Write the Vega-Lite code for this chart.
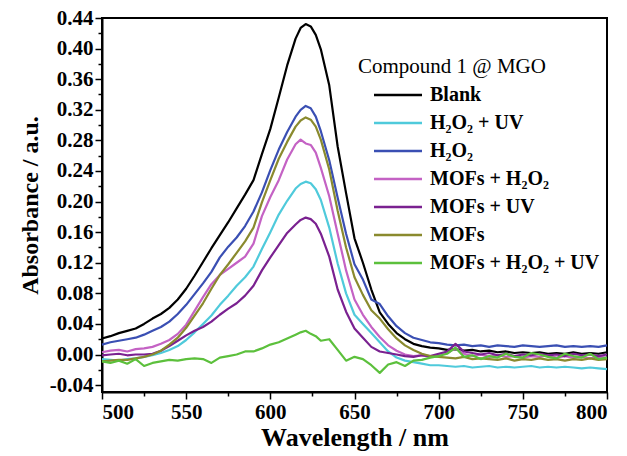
{
  "$schema": "https://vega.github.io/schema/vega-lite/v6.json",
  "width": 505,
  "height": 374,
  "autosize": {"type": "none"},
  "padding": {"left": 102, "top": 18, "right": 20, "bottom": 64},
  "background": "white",
  "data": {"values": [
    {"w":500,"Blank":0.021,"H₂O₂ + UV":-0.006,"H₂O₂":0.013,"MOFs + H₂O₂":0.003,"MOFs + UV":-0.001,"MOFs":-0.009,"MOFs + H₂O₂ + UV":-0.009},
    {"w":505,"Blank":0.024,"H₂O₂ + UV":-0.007,"H₂O₂":0.016,"MOFs + H₂O₂":0.005,"MOFs + UV":0.000,"MOFs":-0.008,"MOFs + H₂O₂ + UV":-0.011},
    {"w":510,"Blank":0.028,"H₂O₂ + UV":-0.008,"H₂O₂":0.018,"MOFs + H₂O₂":0.006,"MOFs + UV":0.001,"MOFs":-0.007,"MOFs + H₂O₂ + UV":-0.008},
    {"w":515,"Blank":0.031,"H₂O₂ + UV":-0.006,"H₂O₂":0.020,"MOFs + H₂O₂":0.004,"MOFs + UV":-0.001,"MOFs":-0.007,"MOFs + H₂O₂ + UV":-0.012},
    {"w":520,"Blank":0.034,"H₂O₂ + UV":-0.005,"H₂O₂":0.022,"MOFs + H₂O₂":0.007,"MOFs + UV":0.000,"MOFs":-0.005,"MOFs + H₂O₂ + UV":-0.006},
    {"w":525,"Blank":0.040,"H₂O₂ + UV":-0.003,"H₂O₂":0.026,"MOFs + H₂O₂":0.008,"MOFs + UV":0.000,"MOFs":-0.003,"MOFs + H₂O₂ + UV":-0.015},
    {"w":530,"Blank":0.047,"H₂O₂ + UV":-0.001,"H₂O₂":0.031,"MOFs + H₂O₂":0.010,"MOFs + UV":0.001,"MOFs":0.000,"MOFs + H₂O₂ + UV":-0.011},
    {"w":535,"Blank":0.053,"H₂O₂ + UV":0.002,"H₂O₂":0.036,"MOFs + H₂O₂":0.014,"MOFs + UV":0.005,"MOFs":0.005,"MOFs + H₂O₂ + UV":-0.009},
    {"w":540,"Blank":0.061,"H₂O₂ + UV":0.006,"H₂O₂":0.043,"MOFs + H₂O₂":0.019,"MOFs + UV":0.011,"MOFs":0.013,"MOFs + H₂O₂ + UV":-0.007},
    {"w":545,"Blank":0.072,"H₂O₂ + UV":0.011,"H₂O₂":0.053,"MOFs + H₂O₂":0.027,"MOFs + UV":0.018,"MOFs":0.022,"MOFs + H₂O₂ + UV":-0.008},
    {"w":550,"Blank":0.086,"H₂O₂ + UV":0.019,"H₂O₂":0.065,"MOFs + H₂O₂":0.039,"MOFs + UV":0.025,"MOFs":0.035,"MOFs + H₂O₂ + UV":-0.006},
    {"w":555,"Blank":0.103,"H₂O₂ + UV":0.029,"H₂O₂":0.079,"MOFs + H₂O₂":0.057,"MOFs + UV":0.031,"MOFs":0.051,"MOFs + H₂O₂ + UV":-0.005},
    {"w":560,"Blank":0.121,"H₂O₂ + UV":0.040,"H₂O₂":0.093,"MOFs + H₂O₂":0.075,"MOFs + UV":0.036,"MOFs":0.067,"MOFs + H₂O₂ + UV":-0.006},
    {"w":565,"Blank":0.139,"H₂O₂ + UV":0.051,"H₂O₂":0.108,"MOFs + H₂O₂":0.092,"MOFs + UV":0.043,"MOFs":0.086,"MOFs + H₂O₂ + UV":-0.011},
    {"w":570,"Blank":0.156,"H₂O₂ + UV":0.065,"H₂O₂":0.127,"MOFs + H₂O₂":0.104,"MOFs + UV":0.052,"MOFs":0.104,"MOFs + H₂O₂ + UV":-0.004},
    {"w":575,"Blank":0.173,"H₂O₂ + UV":0.077,"H₂O₂":0.141,"MOFs + H₂O₂":0.112,"MOFs + UV":0.060,"MOFs":0.118,"MOFs + H₂O₂ + UV":-0.002},
    {"w":580,"Blank":0.191,"H₂O₂ + UV":0.090,"H₂O₂":0.153,"MOFs + H₂O₂":0.120,"MOFs + UV":0.067,"MOFs":0.133,"MOFs + H₂O₂ + UV":0.000},
    {"w":585,"Blank":0.209,"H₂O₂ + UV":0.101,"H₂O₂":0.168,"MOFs + H₂O₂":0.128,"MOFs + UV":0.077,"MOFs":0.148,"MOFs + H₂O₂ + UV":0.004},
    {"w":590,"Blank":0.228,"H₂O₂ + UV":0.115,"H₂O₂":0.187,"MOFs + H₂O₂":0.145,"MOFs + UV":0.090,"MOFs":0.166,"MOFs + H₂O₂ + UV":0.004},
    {"w":595,"Blank":0.262,"H₂O₂ + UV":0.138,"H₂O₂":0.212,"MOFs + H₂O₂":0.181,"MOFs + UV":0.110,"MOFs":0.199,"MOFs + H₂O₂ + UV":0.008},
    {"w":600,"Blank":0.295,"H₂O₂ + UV":0.160,"H₂O₂":0.241,"MOFs + H₂O₂":0.206,"MOFs + UV":0.127,"MOFs":0.228,"MOFs + H₂O₂ + UV":0.013},
    {"w":605,"Blank":0.336,"H₂O₂ + UV":0.183,"H₂O₂":0.268,"MOFs + H₂O₂":0.228,"MOFs + UV":0.143,"MOFs":0.256,"MOFs + H₂O₂ + UV":0.016},
    {"w":610,"Blank":0.378,"H₂O₂ + UV":0.201,"H₂O₂":0.291,"MOFs + H₂O₂":0.255,"MOFs + UV":0.159,"MOFs":0.278,"MOFs + H₂O₂ + UV":0.021},
    {"w":615,"Blank":0.413,"H₂O₂ + UV":0.217,"H₂O₂":0.311,"MOFs + H₂O₂":0.275,"MOFs + UV":0.170,"MOFs":0.298,"MOFs + H₂O₂ + UV":0.026},
    {"w":618,"Blank":0.427,"H₂O₂ + UV":0.223,"H₂O₂":0.320,"MOFs + H₂O₂":0.281,"MOFs + UV":0.176,"MOFs":0.306,"MOFs + H₂O₂ + UV":0.029},
    {"w":621,"Blank":0.432,"H₂O₂ + UV":0.226,"H₂O₂":0.325,"MOFs + H₂O₂":0.276,"MOFs + UV":0.179,"MOFs":0.310,"MOFs + H₂O₂ + UV":0.031},
    {"w":624,"Blank":0.429,"H₂O₂ + UV":0.224,"H₂O₂":0.322,"MOFs + H₂O₂":0.274,"MOFs + UV":0.177,"MOFs":0.307,"MOFs + H₂O₂ + UV":0.027},
    {"w":627,"Blank":0.418,"H₂O₂ + UV":0.216,"H₂O₂":0.311,"MOFs + H₂O₂":0.264,"MOFs + UV":0.171,"MOFs":0.298,"MOFs + H₂O₂ + UV":0.024},
    {"w":630,"Blank":0.399,"H₂O₂ + UV":0.202,"H₂O₂":0.292,"MOFs + H₂O₂":0.244,"MOFs + UV":0.158,"MOFs":0.281,"MOFs + H₂O₂ + UV":0.018},
    {"w":635,"Blank":0.352,"H₂O₂ + UV":0.166,"H₂O₂":0.254,"MOFs + H₂O₂":0.207,"MOFs + UV":0.128,"MOFs":0.242,"MOFs + H₂O₂ + UV":0.020},
    {"w":640,"Blank":0.272,"H₂O₂ + UV":0.119,"H₂O₂":0.205,"MOFs + H₂O₂":0.158,"MOFs + UV":0.085,"MOFs":0.188,"MOFs + H₂O₂ + UV":0.006},
    {"w":645,"Blank":0.211,"H₂O₂ + UV":0.080,"H₂O₂":0.158,"MOFs + H₂O₂":0.110,"MOFs + UV":0.056,"MOFs":0.140,"MOFs + H₂O₂ + UV":-0.008},
    {"w":650,"Blank":0.152,"H₂O₂ + UV":0.052,"H₂O₂":0.118,"MOFs + H₂O₂":0.072,"MOFs + UV":0.034,"MOFs":0.101,"MOFs + H₂O₂ + UV":-0.003},
    {"w":655,"Blank":0.120,"H₂O₂ + UV":0.040,"H₂O₂":0.098,"MOFs + H₂O₂":0.052,"MOFs + UV":0.022,"MOFs":0.078,"MOFs + H₂O₂ + UV":-0.006},
    {"w":660,"Blank":0.085,"H₂O₂ + UV":0.028,"H₂O₂":0.072,"MOFs + H₂O₂":0.036,"MOFs + UV":0.010,"MOFs":0.058,"MOFs + H₂O₂ + UV":-0.014},
    {"w":665,"Blank":0.055,"H₂O₂ + UV":0.016,"H₂O₂":0.066,"MOFs + H₂O₂":0.023,"MOFs + UV":0.004,"MOFs":0.047,"MOFs + H₂O₂ + UV":-0.024},
    {"w":670,"Blank":0.040,"H₂O₂ + UV":0.004,"H₂O₂":0.050,"MOFs + H₂O₂":0.012,"MOFs + UV":0.002,"MOFs":0.033,"MOFs + H₂O₂ + UV":-0.013},
    {"w":675,"Blank":0.028,"H₂O₂ + UV":-0.004,"H₂O₂":0.037,"MOFs + H₂O₂":0.005,"MOFs + UV":0.000,"MOFs":0.021,"MOFs + H₂O₂ + UV":-0.010},
    {"w":680,"Blank":0.020,"H₂O₂ + UV":-0.008,"H₂O₂":0.028,"MOFs + H₂O₂":0.000,"MOFs + UV":-0.002,"MOFs":0.012,"MOFs + H₂O₂ + UV":-0.015},
    {"w":685,"Blank":0.014,"H₂O₂ + UV":-0.010,"H₂O₂":0.022,"MOFs + H₂O₂":-0.002,"MOFs + UV":-0.003,"MOFs":0.006,"MOFs + H₂O₂ + UV":-0.008},
    {"w":690,"Blank":0.011,"H₂O₂ + UV":-0.012,"H₂O₂":0.019,"MOFs + H₂O₂":-0.001,"MOFs + UV":-0.001,"MOFs":0.001,"MOFs + H₂O₂ + UV":-0.007},
    {"w":695,"Blank":0.009,"H₂O₂ + UV":-0.014,"H₂O₂":0.016,"MOFs + H₂O₂":-0.003,"MOFs + UV":-0.002,"MOFs":-0.002,"MOFs + H₂O₂ + UV":-0.004},
    {"w":700,"Blank":0.008,"H₂O₂ + UV":-0.014,"H₂O₂":0.015,"MOFs + H₂O₂":-0.001,"MOFs + UV":0.001,"MOFs":-0.003,"MOFs + H₂O₂ + UV":-0.002},
    {"w":705,"Blank":0.006,"H₂O₂ + UV":-0.015,"H₂O₂":0.013,"MOFs + H₂O₂":0.002,"MOFs + UV":0.004,"MOFs":-0.004,"MOFs + H₂O₂ + UV":0.001},
    {"w":710,"Blank":0.007,"H₂O₂ + UV":-0.016,"H₂O₂":0.012,"MOFs + H₂O₂":0.008,"MOFs + UV":0.014,"MOFs":-0.005,"MOFs + H₂O₂ + UV":0.009},
    {"w":715,"Blank":0.005,"H₂O₂ + UV":-0.015,"H₂O₂":0.013,"MOFs + H₂O₂":0.001,"MOFs + UV":0.004,"MOFs":-0.003,"MOFs + H₂O₂ + UV":-0.003},
    {"w":720,"Blank":0.006,"H₂O₂ + UV":-0.017,"H₂O₂":0.011,"MOFs + H₂O₂":-0.002,"MOFs + UV":0.002,"MOFs":-0.006,"MOFs + H₂O₂ + UV":-0.001},
    {"w":725,"Blank":0.004,"H₂O₂ + UV":-0.016,"H₂O₂":0.012,"MOFs + H₂O₂":0.000,"MOFs + UV":0.000,"MOFs":-0.005,"MOFs + H₂O₂ + UV":-0.006},
    {"w":730,"Blank":0.005,"H₂O₂ + UV":-0.015,"H₂O₂":0.010,"MOFs + H₂O₂":-0.003,"MOFs + UV":0.002,"MOFs":-0.006,"MOFs + H₂O₂ + UV":-0.002},
    {"w":735,"Blank":0.003,"H₂O₂ + UV":-0.017,"H₂O₂":0.012,"MOFs + H₂O₂":-0.001,"MOFs + UV":-0.001,"MOFs":-0.007,"MOFs + H₂O₂ + UV":-0.004},
    {"w":740,"Blank":0.004,"H₂O₂ + UV":-0.016,"H₂O₂":0.011,"MOFs + H₂O₂":-0.003,"MOFs + UV":0.001,"MOFs":-0.005,"MOFs + H₂O₂ + UV":0.001},
    {"w":745,"Blank":0.002,"H₂O₂ + UV":-0.017,"H₂O₂":0.010,"MOFs + H₂O₂":-0.002,"MOFs + UV":-0.002,"MOFs":-0.008,"MOFs + H₂O₂ + UV":-0.003},
    {"w":750,"Blank":0.003,"H₂O₂ + UV":-0.016,"H₂O₂":0.012,"MOFs + H₂O₂":-0.004,"MOFs + UV":0.000,"MOFs":-0.006,"MOFs + H₂O₂ + UV":-0.004},
    {"w":755,"Blank":0.002,"H₂O₂ + UV":-0.015,"H₂O₂":0.011,"MOFs + H₂O₂":-0.002,"MOFs + UV":-0.001,"MOFs":-0.007,"MOFs + H₂O₂ + UV":0.002},
    {"w":760,"Blank":0.003,"H₂O₂ + UV":-0.017,"H₂O₂":0.010,"MOFs + H₂O₂":-0.003,"MOFs + UV":0.001,"MOFs":-0.005,"MOFs + H₂O₂ + UV":0.000},
    {"w":765,"Blank":0.001,"H₂O₂ + UV":-0.016,"H₂O₂":0.011,"MOFs + H₂O₂":-0.001,"MOFs + UV":-0.001,"MOFs":-0.007,"MOFs + H₂O₂ + UV":-0.003},
    {"w":770,"Blank":0.002,"H₂O₂ + UV":-0.017,"H₂O₂":0.012,"MOFs + H₂O₂":-0.004,"MOFs + UV":0.000,"MOFs":-0.006,"MOFs + H₂O₂ + UV":-0.005},
    {"w":775,"Blank":0.001,"H₂O₂ + UV":-0.016,"H₂O₂":0.010,"MOFs + H₂O₂":-0.002,"MOFs + UV":-0.002,"MOFs":-0.008,"MOFs + H₂O₂ + UV":0.001},
    {"w":780,"Blank":0.003,"H₂O₂ + UV":-0.017,"H₂O₂":0.011,"MOFs + H₂O₂":-0.004,"MOFs + UV":0.001,"MOFs":-0.006,"MOFs + H₂O₂ + UV":-0.002},
    {"w":785,"Blank":0.001,"H₂O₂ + UV":-0.018,"H₂O₂":0.010,"MOFs + H₂O₂":-0.003,"MOFs + UV":-0.001,"MOFs":-0.007,"MOFs + H₂O₂ + UV":-0.004},
    {"w":790,"Blank":0.002,"H₂O₂ + UV":-0.017,"H₂O₂":0.011,"MOFs + H₂O₂":-0.005,"MOFs + UV":0.000,"MOFs":-0.005,"MOFs + H₂O₂ + UV":0.001},
    {"w":795,"Blank":0.001,"H₂O₂ + UV":-0.018,"H₂O₂":0.010,"MOFs + H₂O₂":-0.003,"MOFs + UV":-0.002,"MOFs":-0.007,"MOFs + H₂O₂ + UV":-0.006},
    {"w":800,"Blank":0.003,"H₂O₂ + UV":-0.019,"H₂O₂":0.012,"MOFs + H₂O₂":-0.004,"MOFs + UV":0.000,"MOFs":-0.006,"MOFs + H₂O₂ + UV":-0.004}
  ]},
  "transform": [
    {"fold": ["Blank","H₂O₂ + UV","H₂O₂","MOFs + H₂O₂","MOFs + UV","MOFs","MOFs + H₂O₂ + UV"], "as": ["series","absorbance"]}
  ],
  "mark": {"type": "line", "strokeWidth": 2.2, "strokeJoin": "round"},
  "encoding": {
    "x": {
      "field": "w", "type": "quantitative",
      "scale": {"domain": [500, 800], "nice": false, "zero": false},
      "axis": {
        "title": "Wavelength / nm",
        "values": [500,525,550,575,600,625,650,675,700,725,750,775,800],
        "labelExpr": "datum.value % 50 === 0 ? datum.label : ''",
        "tickSize": {"condition": {"test": "datum.value % 50 === 0", "value": 7}, "value": 4},
        "labelOverlap": false,
        "titleFontSize": 26,
        "titlePadding": 2
      }
    },
    "y": {
      "field": "absorbance", "type": "quantitative",
      "scale": {"domain": [-0.049, 0.44], "nice": false, "zero": false},
      "axis": {
        "title": "Absorbance / a.u.",
        "values": [-0.04,-0.02,0,0.02,0.04,0.06,0.08,0.1,0.12,0.14,0.16,0.18,0.2,0.22,0.24,0.26,0.28,0.3,0.32,0.34,0.36,0.38,0.4,0.42,0.44],
        "labelExpr": "round(datum.value*100) % 4 === 0 ? replace(format(datum.value, '.2f'), '\u2212', '-') : ''",
        "tickSize": {"condition": {"test": "round(datum.value*100) % 4 === 0", "value": 7}, "value": 4},
        "labelOverlap": false,
        "titleFontSize": 24,
        "titlePadding": 7
      }
    },
    "color": {
      "field": "series", "type": "nominal",
      "scale": {
        "domain": ["Blank","H₂O₂ + UV","H₂O₂","MOFs + H₂O₂","MOFs + UV","MOFs","MOFs + H₂O₂ + UV"],
        "range": ["#000000","#4fcadb","#3a4fb3","#c462c4","#7a2190","#8a8a2e","#5cc03c"]
      },
      "legend": {
        "title": "Compound 1 @ MGO",
        "orient": "none",
        "legendX": 256,
        "legendY": 38,
        "symbolType": "M-3,0H3",
        "symbolSize": 256,
        "symbolStrokeWidth": 2.5,
        "symbolOffset": 30,
        "labelOffset": 22,
        "rowPadding": 8,
        "labelLimit": 400,
        "titleLimit": 400
      }
    }
  },
  "config": {
    "view": {"stroke": "black", "strokeWidth": 2},
    "font": "Liberation Serif",
    "axis": {
      "domainColor": "black", "domainWidth": 2,
      "tickColor": "black", "tickWidth": 1.5,
      "labelFont": "Liberation Serif", "labelFontSize": 21, "labelFontWeight": "bold", "labelColor": "black", "labelPadding": 2,
      "titleFont": "Liberation Serif", "titleFontWeight": "bold", "titleColor": "black",
      "grid": false
    },
    "legend": {
      "titleFont": "Liberation Serif", "titleFontSize": 21, "titleFontWeight": "normal", "titleColor": "black", "titlePadding": 8,
      "labelFont": "Liberation Serif", "labelFontSize": 20, "labelFontWeight": "bold", "labelColor": "black"
    }
  }
}
